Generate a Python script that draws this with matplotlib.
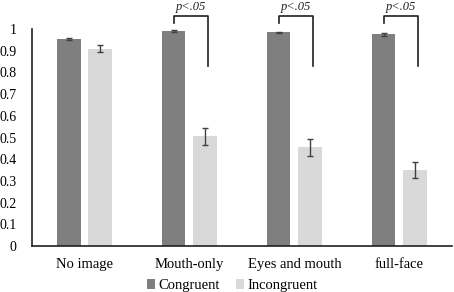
import matplotlib.pyplot as plt
import numpy as np

plt.rcParams['font.family'] = ['Liberation Serif', 'DejaVu Serif']

categorias = ['No image', 'Mouth-only', 'Eyes and mouth', 'full-face']
congruente = [0.955, 0.99, 0.985, 0.975]
congruente_err = [0.005, 0.005, 0.003, 0.008]
incongruente = [0.91, 0.505, 0.455, 0.35]
incongruente_err = [0.015, 0.04, 0.04, 0.035]
sig_grupos = [1, 2, 3]
sig_texto = 'p<.05'

fig = plt.figure(figsize=(4.54, 2.92), dpi=100)
ax = fig.add_axes([0.0705, 0.1575, 0.925, 0.743])

x = np.arange(len(categorias))
w = 0.22
d = 0.148
ax.bar(x - d, congruente, w, color='#7f7f7f', label='Congruent',
       yerr=congruente_err, error_kw=dict(ecolor='#404040', capsize=2.5, elinewidth=1))
ax.bar(x + d, incongruente, w, color='#d9d9d9', label='Incongruent',
       yerr=incongruente_err, error_kw=dict(ecolor='#404040', capsize=2.5, elinewidth=1))

# colchetes de significancia
for g in sig_grupos:
    xl = g - d
    xr = g + d + 0.03
    ax.plot([xl, xl, xr, xr], [1.03, 1.06, 1.06, 0.83], color='#202020',
            lw=1.2, clip_on=False)
    ax.text((xl + xr) / 2, 1.075, sig_texto, ha='center', va='bottom',
            fontsize=9, style='italic', color='#202020')

ax.set_xlim(-0.5, len(categorias) - 0.5)
ax.set_ylim(0, 1)
ax.set_yticks(np.arange(0, 1.01, 0.1))
ax.set_yticklabels(['0'] + ['%.1f' % v for v in np.arange(0.1, 0.95, 0.1)] + ['1'])
ax.set_xticks(x)
ax.set_xticklabels(categorias)
ax.tick_params(axis='y', length=0, pad=11, labelsize=10)
ax.tick_params(axis='x', length=0, pad=8.5, labelsize=10.5)
for s in ['top', 'right']:
    ax.spines[s].set_visible(False)
ax.spines['left'].set_color('#202020')
ax.spines['bottom'].set_color('#202020')
ax.spines['left'].set_linewidth(1.2)
ax.spines['bottom'].set_linewidth(1.2)

fig.legend(loc='lower center', bbox_to_anchor=(0.511, -0.045), ncol=2, frameon=False,
           fontsize=10.5, handlelength=0.6, handleheight=0.6, handletextpad=0.2,
           columnspacing=1.1)

fig.savefig('out.png', dpi=100)
